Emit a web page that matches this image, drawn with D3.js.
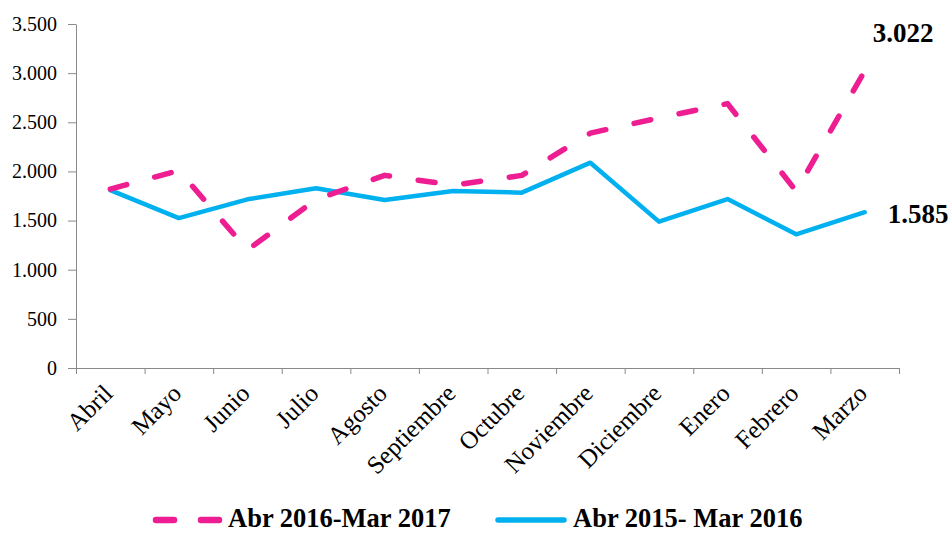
<!DOCTYPE html>
<html>
<head>
<meta charset="utf-8">
<script src="https://cdn.jsdelivr.net/npm/d3@7"></script>
<style>
  html, body { margin: 0; padding: 0; background: #fff; }
  svg { display: block; }
</style>
</head>
<body>
<svg id="chart" width="950" height="533"></svg>
<script>
// ---- data ----
const months = ["Abril","Mayo","Junio","Julio","Agosto","Septiembre","Octubre","Noviembre","Diciembre","Enero","Febrero","Marzo"];
const serie2016 = [1820, 2010, 1200, 1715, 1960, 1860, 1960, 2390, 2545, 2690, 1800, 3022];
const serie2015 = [1810, 1525, 1716, 1828, 1709, 1801, 1784, 2089, 1489, 1719, 1360, 1585];
const yTicks = [0, 500, 1000, 1500, 2000, 2500, 3000, 3500];
const seriesNames = ["Abr 2016-Mar 2017", "Abr 2015- Mar 2016"];

// ---- styles ----
const PINK = "#EE1D91";
const BLUE = "#00B0EF";
const AXIS = "#8a8a8a";
const SERIF = "'Liberation Serif', 'Times New Roman', serif";

const locale = d3.formatLocale({decimal: ",", thousands: ".", grouping: [3], currency: ["", ""]});
const fmt = locale.format(",.0f");

const svg = d3.select("#chart");

const x = d3.scaleBand().domain(months).range([76, 899]);
const xEdge = d3.scaleLinear().domain([0, months.length]).range([76, 899]);
const y = d3.scaleLinear().domain([0, 3500]).range([368, 24]);
const cx = m => x(m) + x.bandwidth() / 2;

// y axis
const gy = svg.append("g").attr("transform", "translate(76,0)")
  .call(d3.axisLeft(y).tickValues(yTicks).tickSize(8).tickSizeOuter(0).tickPadding(11).tickFormat(fmt));
gy.select(".domain").attr("stroke", AXIS);
gy.selectAll(".tick line").attr("stroke", AXIS);
gy.selectAll(".tick text").attr("font-family", SERIF).attr("font-size", 20).attr("fill", "#000");

// x axis (ticks at category boundaries)
const gx = svg.append("g").attr("transform", "translate(0,368)")
  .call(d3.axisBottom(xEdge).tickValues(d3.range(months.length + 1)).tickSize(6).tickSizeOuter(0).tickFormat(""));
gx.select(".domain").attr("stroke", AXIS);
gx.selectAll(".tick line").attr("stroke", AXIS);

// x labels
svg.append("g").selectAll("text").data(months).join("text")
  .attr("transform", d => `translate(${cx(d) + 4},395) rotate(-45)`)
  .attr("text-anchor", "end")
  .attr("font-family", SERIF).attr("font-size", 25).attr("fill", "#000")
  .text(d => d);

// lines
const line = d3.line().x((d, i) => cx(months[i])).y(d => y(d));

svg.append("path").datum(serie2015)
  .attr("d", line).attr("fill", "none")
  .attr("stroke", BLUE).attr("stroke-width", 4.5)
  .attr("stroke-linejoin", "round").attr("stroke-linecap", "round");

svg.append("path").datum(serie2016)
  .attr("d", line).attr("fill", "none")
  .attr("stroke", PINK).attr("stroke-width", 5.5)
  .attr("stroke-dasharray", "17,29")
  .attr("stroke-linejoin", "round").attr("stroke-linecap", "round");

// end labels
const last = months.length - 1;
svg.append("text")
  .attr("x", cx(months[last]) + 8).attr("y", y(serie2016[last]) - 29)
  .attr("font-family", SERIF).attr("font-weight", "bold").attr("font-size", 27).attr("fill", "#000")
  .text(fmt(serie2016[last]));
svg.append("text")
  .attr("x", cx(months[last]) + 23).attr("y", y(serie2015[last]) + 11)
  .attr("font-family", SERIF).attr("font-weight", "bold").attr("font-size", 27).attr("fill", "#000")
  .text(fmt(serie2015[last]));

// legend
const lg = svg.append("g");
lg.append("line").attr("x1", 156).attr("x2", 220).attr("y1", 520).attr("y2", 520)
  .attr("stroke", PINK).attr("stroke-width", 6.5).attr("stroke-linecap", "round")
  .attr("stroke-dasharray", "18,27");
lg.append("text").attr("x", 228).attr("y", 527)
  .attr("font-family", SERIF).attr("font-weight", "bold").attr("font-size", 26.5).attr("fill", "#000")
  .text(seriesNames[0]);
lg.append("line").attr("x1", 498).attr("x2", 564).attr("y1", 520).attr("y2", 520)
  .attr("stroke", BLUE).attr("stroke-width", 5.5).attr("stroke-linecap", "round");
lg.append("text").attr("x", 573).attr("y", 527)
  .attr("font-family", SERIF).attr("font-weight", "bold").attr("font-size", 26.5).attr("fill", "#000")
  .text(seriesNames[1]);
</script>
</body>
</html>
